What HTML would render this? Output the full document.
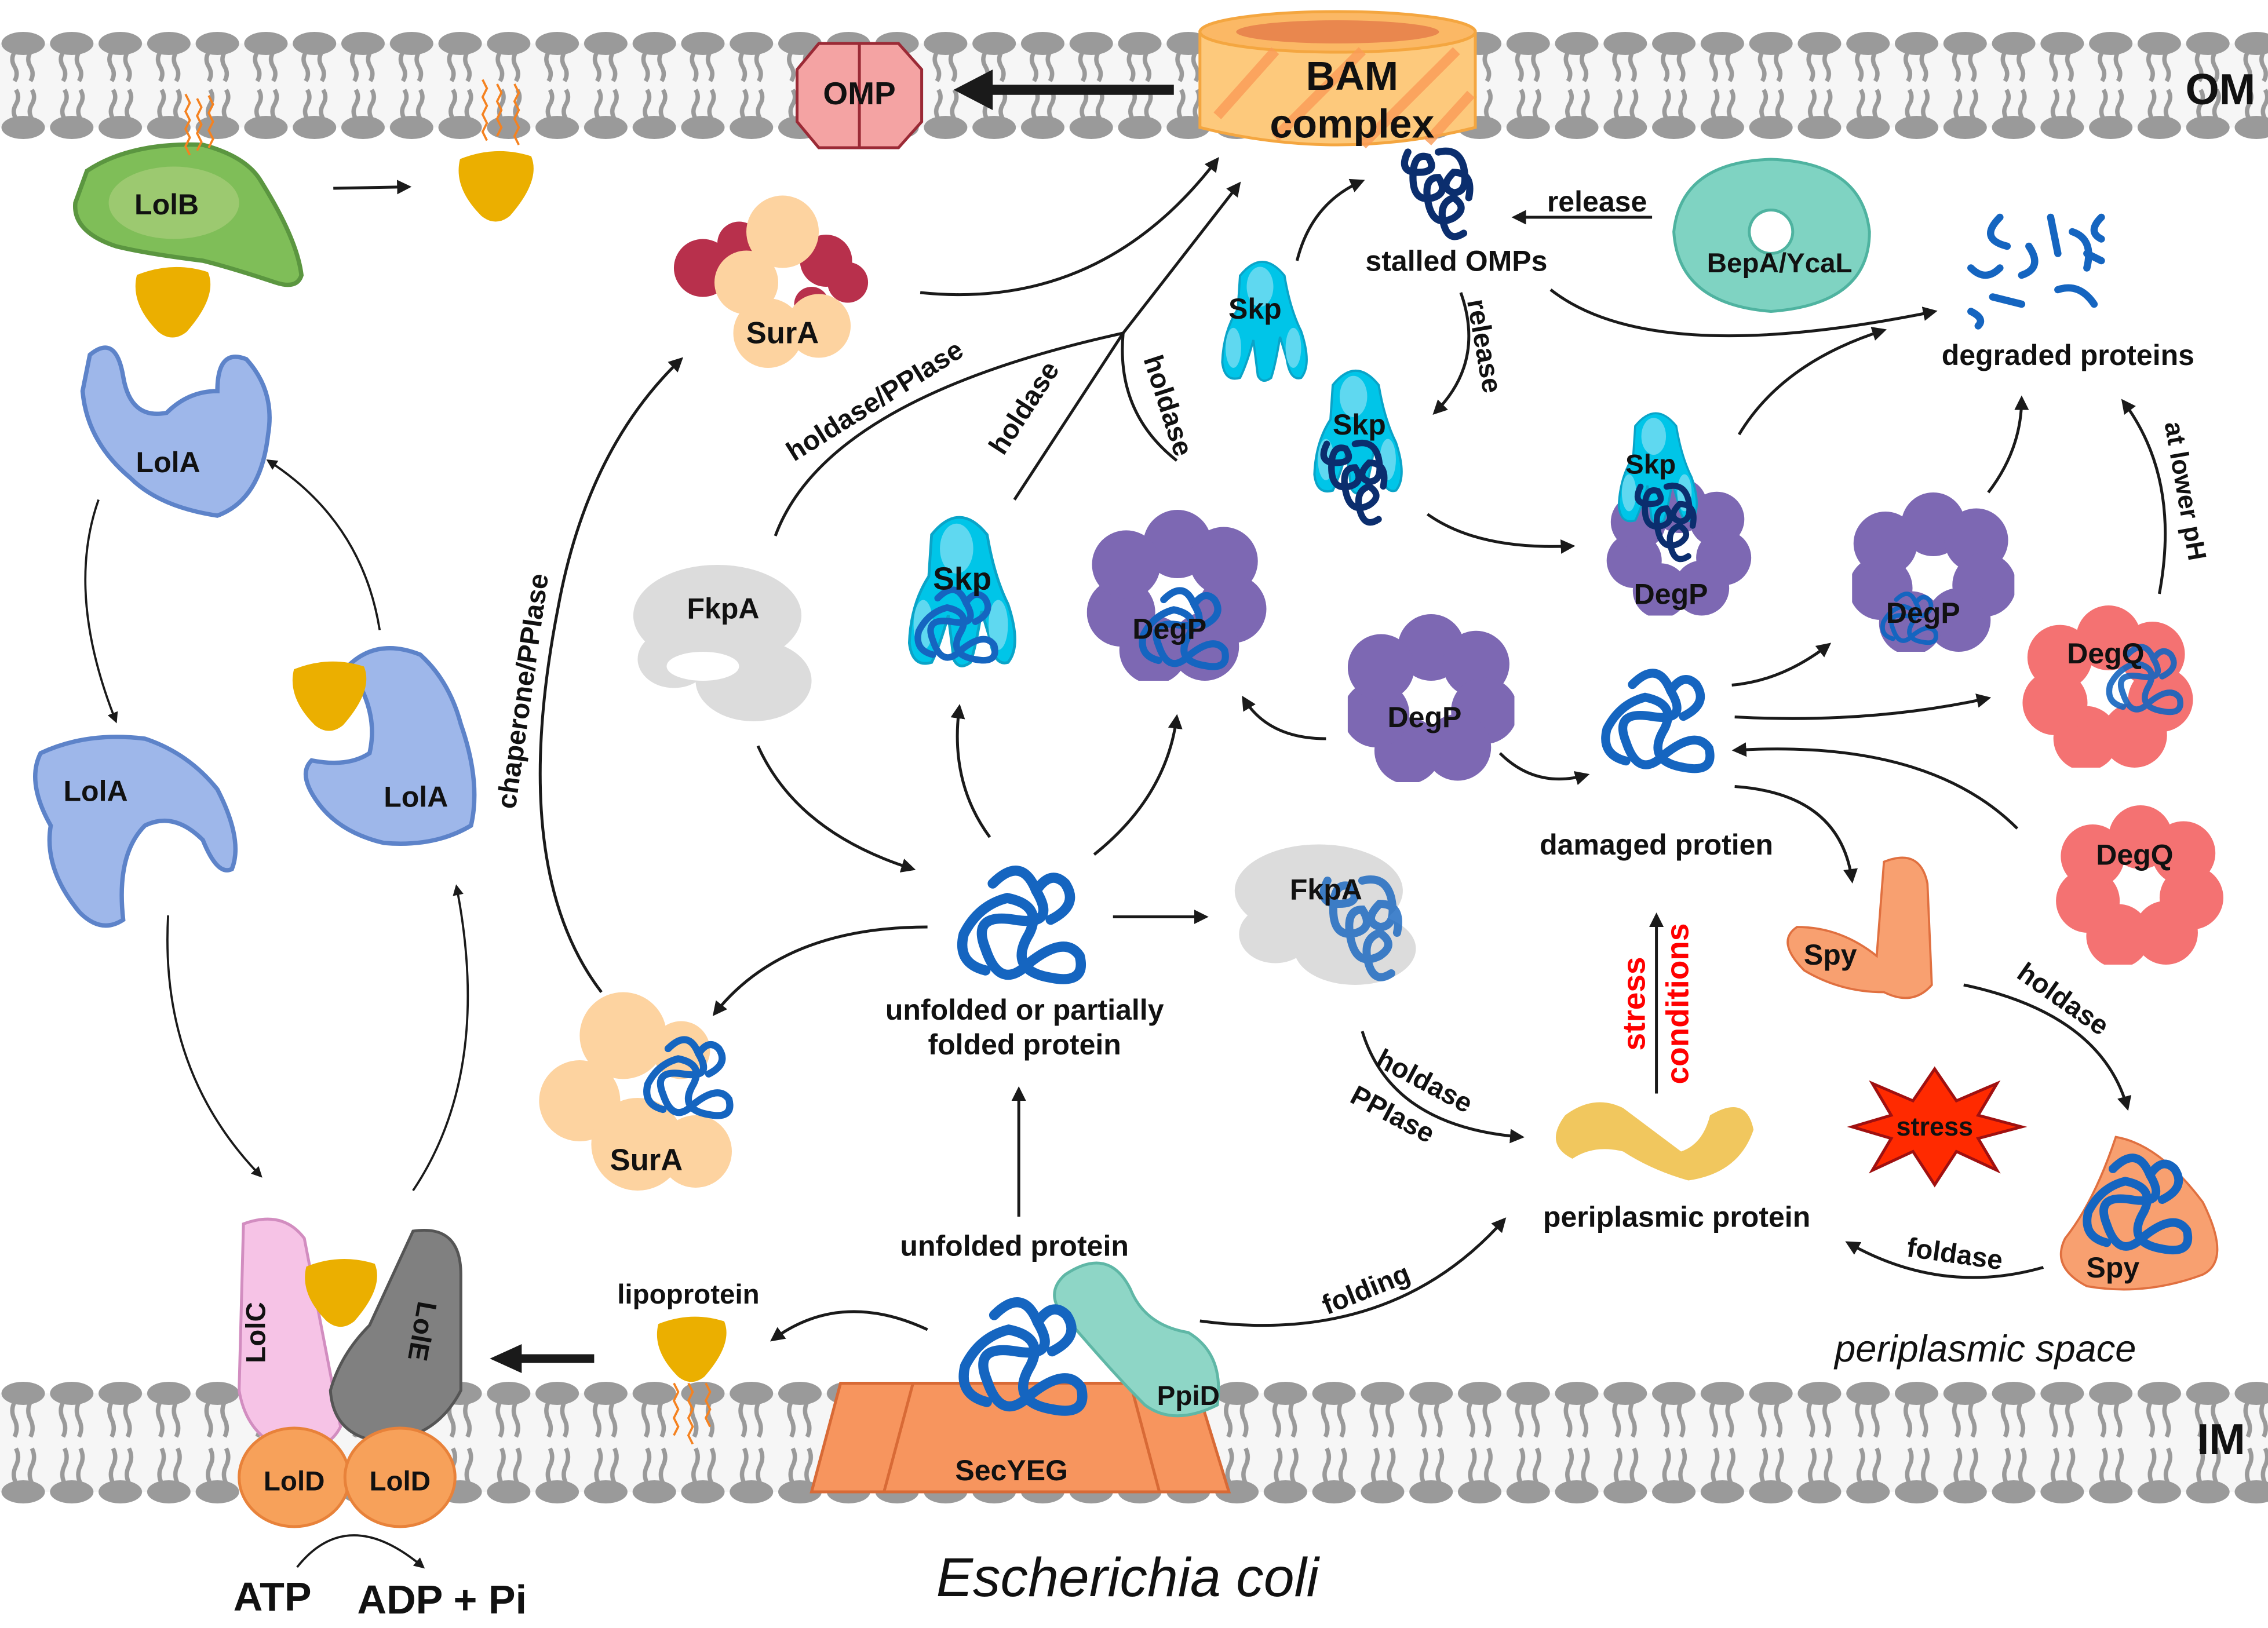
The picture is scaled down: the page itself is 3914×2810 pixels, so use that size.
<!DOCTYPE html>
<html><head><meta charset="utf-8"><style>
html,body{margin:0;padding:0;background:#fff}
svg{display:block}
text{font-family:"Liberation Sans Narrow","Liberation Sans",sans-serif;font-weight:bold;fill:#111}
</style></head><body>
<svg width="3914" height="2810" viewBox="0 0 1565 1124" preserveAspectRatio="none" xmlns="http://www.w3.org/2000/svg">
<defs>
<pattern id="om" x="0" y="22" width="33.5" height="76" patternUnits="userSpaceOnUse">
 <ellipse cx="16" cy="8" rx="15" ry="8" fill="#9a9a9a"/>
 <ellipse cx="16" cy="66" rx="15" ry="8" fill="#9a9a9a"/>
 <path d="M10 14 q-3 5 0 10 q3 5 0 10 M21 14 q-3 5 0 10 q3 5 0 10 M11 40 q3 5 0 10 q-3 5 0 10 M22 40 q3 5 0 10 q-3 5 0 10" stroke="#9a9a9a" stroke-width="3" fill="none"/>
</pattern>
<pattern id="im" x="0" y="954" width="33.5" height="84" patternUnits="userSpaceOnUse">
 <ellipse cx="16" cy="8" rx="15" ry="8" fill="#9a9a9a"/>
 <ellipse cx="16" cy="76" rx="15" ry="8" fill="#9a9a9a"/>
 <path d="M10 14 q-3 6 0 12 q3 6 0 12 M21 14 q-3 6 0 12 q3 6 0 12 M11 46 q3 6 0 12 q-3 6 0 12 M22 46 q3 6 0 12 q-3 6 0 12" stroke="#9a9a9a" stroke-width="3" fill="none"/>
</pattern>
<marker id="ah" viewBox="0 0 10 10" refX="8" refY="5" markerWidth="5" markerHeight="5" orient="auto"><path d="M0 0L10 5L0 10z" fill="#1a1a1a"/></marker>
<symbol id="ring" viewBox="0 0 100 100">
 <g fill="currentColor">
 <circle cx="50" cy="20" r="20"/><circle cx="77" cy="30" r="20"/><circle cx="82" cy="58" r="20"/><circle cx="66" cy="80" r="20"/><circle cx="36" cy="82" r="20"/><circle cx="17" cy="60" r="20"/><circle cx="20" cy="32" r="20"/>
 </g>
 <circle cx="50" cy="52" r="9" fill="#fff"/>
</symbol>
<symbol id="skp" viewBox="0 0 100 120">
 <g fill="#00c5e8" stroke="#0aa4c8" stroke-width="2">
 <path d="M30 20 Q50 -5 70 20 Q75 50 85 70 Q95 100 85 112 Q75 115 72 95 L66 75 Q62 100 58 112 Q50 118 46 110 L42 78 Q36 100 30 112 Q16 116 14 98 Q15 70 28 50 Z"/>
 </g>
 <ellipse cx="48" cy="30" rx="12" ry="18" fill="#5fd8f0"/>
 <ellipse cx="24" cy="85" rx="7" ry="18" fill="#5fd8f0"/>
 <ellipse cx="78" cy="85" rx="7" ry="18" fill="#5fd8f0"/>
</symbol>
<symbol id="tangle" viewBox="0 0 100 100">
 <path d="M30 20 Q50 0 60 25 Q75 50 45 45 Q15 40 25 65 Q35 95 55 75 Q80 55 90 70 Q95 90 70 85 Q40 80 55 55 Q65 35 40 30 Q20 35 10 55 Q5 75 25 80 M60 25 Q70 10 80 20 Q90 35 70 45" stroke="currentColor" stroke-width="7" fill="none" stroke-linecap="round"/>
</symbol>
<symbol id="coil" viewBox="0 0 100 100">
 <path d="M20 10 q-10 20 10 20 q20 0 10 -15 q-15 -5 -15 20 q0 25 20 20 q15 -5 5 -20 q-15 0 -10 25 q5 25 25 15 q15 -10 0 -20 q-15 5 -10 25 q5 20 20 10 M50 10 q20 -5 25 15 q5 25 -10 25 q-15 -5 0 -20 q20 0 15 25" stroke="currentColor" stroke-width="7" fill="none" stroke-linecap="round"/>
</symbol>
<symbol id="yel" viewBox="0 0 60 55">
 <path d="M5 10 Q30 0 55 8 Q62 25 40 50 Q30 58 20 50 Q0 30 5 10Z" fill="#ebaf00"/>
</symbol>
</defs>

<!-- membranes -->
<rect x="0" y="30" width="1565" height="58" fill="#f6f6f6"/>
<rect x="0" y="22" width="1565" height="76" fill="url(#om)"/>
<rect x="0" y="962" width="1565" height="68" fill="#f6f6f6"/>
<rect x="0" y="954" width="1565" height="84" fill="url(#im)"/>
<text x="1508" y="72" font-size="30">OM</text>
<text x="1516" y="1004" font-size="30">IM</text>

<!-- BAM -->
<path d="M828 22 L828 88 Q923 112 1018 88 L1018 22Z" fill="#fdc97c" stroke="#f4a640" stroke-width="2"/>
<ellipse cx="923" cy="22" rx="95" ry="14" fill="#fbb865" stroke="#f4a640" stroke-width="2"/>
<ellipse cx="923" cy="22" rx="70" ry="8" fill="#e9874e"/>
<g stroke="#fb9c57" stroke-width="7" opacity="0.8"><line x1="840" y1="80" x2="880" y2="35"/><line x1="880" y1="95" x2="940" y2="35"/><line x1="940" y1="100" x2="1005" y2="35"/><line x1="985" y1="98" x2="1015" y2="65"/></g>
<text x="933" y="62" font-size="28" text-anchor="middle">BAM</text>
<text x="933" y="95" font-size="28" text-anchor="middle">complex</text>
<!-- OMP -->
<path d="M565 30 L620 30 L636 48 L636 84 L620 102 L565 102 L550 84 L550 48Z" fill="#f4a3a3" stroke="#9b2a36" stroke-width="2"/>
<line x1="593" y1="30" x2="593" y2="102" stroke="#9b2a36" stroke-width="2"/>
<text x="593" y="72" font-size="22" text-anchor="middle">OMP</text>
<line x1="810" y1="62" x2="680" y2="62" stroke="#1a1a1a" stroke-width="7"/>
<path d="M658 62 L685 48 L685 76Z" fill="#1a1a1a"/>

<!-- LolB -->
<path d="M60 118 Q90 98 140 100 Q170 108 180 125 Q205 165 208 190 Q205 200 190 195 Q160 185 140 180 Q100 175 80 170 Q50 160 52 140Z" fill="#7fbe58" stroke="#5b9640" stroke-width="3"/>
<ellipse cx="120" cy="140" rx="45" ry="25" fill="#a8cd7a" opacity="0.7"/>
<text x="115" y="148" font-size="20" text-anchor="middle">LolB</text>
<use href="#yel" x="88" y="180" width="62" height="54"/>
<use href="#yel" x="312" y="100" width="60" height="54"/>
<g stroke="#f58220" stroke-width="1.5" fill="none"><path d="M128 65 l3 6 l-3 6 l3 6 l-3 6 l3 6 l-3 6 l3 6 M136 68 l3 6 l-3 6 l3 6 l-3 6 l3 6 l-3 6 M144 66 l3 6 l-3 6 l3 6 l-3 6 l3 6 l-3 6 M333 55 l3 6 l-3 6 l3 6 l-3 6 l3 6 l-3 6 l3 6 M343 58 l3 6 l-3 6 l3 6 l-3 6 l3 6 l-3 6 M355 58 l3 6 l-3 6 l3 6 l-3 6 l3 6 l-3 6 l3 6"/></g>
<line x1="230" y1="130" x2="282" y2="129" stroke="#1a1a1a" stroke-width="2" marker-end="url(#ah)"/>

<!-- LolA -->
<path d="M62 245 Q80 230 85 260 Q90 290 115 285 Q130 270 150 270 Q150 240 170 248 Q190 270 185 300 Q180 345 150 356 Q110 350 90 330 Q60 305 57 270Z" fill="#9eb7ea" stroke="#5d83c9" stroke-width="3"/>
<text x="116" y="326" font-size="20" text-anchor="middle">LolA</text>
<path d="M28 520 Q60 505 100 510 Q130 520 150 545 Q168 580 160 600 Q150 605 140 580 Q120 560 100 570 Q80 590 85 635 Q70 645 55 630 Q30 600 35 570 Q18 540 28 520Z" fill="#9eb7ea" stroke="#5d83c9" stroke-width="3"/>
<text x="66" y="553" font-size="20" text-anchor="middle">LolA</text>
<path d="M240 460 Q260 440 290 452 Q310 470 318 500 Q332 540 325 570 Q300 585 265 582 Q235 575 220 555 Q205 535 215 525 Q240 530 255 520 Q262 490 240 460Z" fill="#9eb7ea" stroke="#5d83c9" stroke-width="3"/>
<use href="#yel" x="198" y="445" width="58" height="68"/>
<text x="287" y="557" font-size="20" text-anchor="middle">LolA</text>
<path d="M68 345 Q45 410 80 498" stroke="#1a1a1a" stroke-width="1.5" fill="none" marker-end="url(#ah)"/>
<path d="M262 435 Q250 360 185 318" stroke="#1a1a1a" stroke-width="1.5" fill="none" marker-end="url(#ah)"/>
<path d="M116 632 Q110 740 180 812" stroke="#1a1a1a" stroke-width="1.5" fill="none" marker-end="url(#ah)"/>
<path d="M285 822 Q340 740 315 612" stroke="#1a1a1a" stroke-width="1.5" fill="none" marker-end="url(#ah)"/>

<!-- Lol CDE -->
<path d="M168 845 Q195 835 210 855 L235 985 Q225 1005 195 1000 Q170 990 165 960 Z" fill="#f6c3e6" stroke="#d28dc0" stroke-width="2"/>
<text x="183" y="920" font-size="19" text-anchor="middle" transform="rotate(-90 183 920)">LolC</text>
<path d="M285 850 Q318 845 318 880 L318 960 Q300 995 260 995 Q230 990 228 960 Q235 935 255 915 Z" fill="#808080" stroke="#555" stroke-width="2"/>
<text x="285" y="918" font-size="19" text-anchor="middle" transform="rotate(100 285 918)">LolE</text>
<use href="#yel" x="204" y="865" width="62" height="52"/>
<ellipse cx="203" cy="1020" rx="38" ry="34" fill="#f7a15a" stroke="#e8823a" stroke-width="2"/>
<ellipse cx="276" cy="1020" rx="38" ry="34" fill="#f7a15a" stroke="#e8823a" stroke-width="2"/>
<text x="203" y="1029" font-size="19" text-anchor="middle">LolD</text>
<text x="276" y="1029" font-size="19" text-anchor="middle">LolD</text>
<path d="M205 1082 Q240 1038 292 1082" stroke="#1a1a1a" stroke-width="1.5" fill="none" marker-end="url(#ah)"/>
<text x="188" y="1112" font-size="28" text-anchor="middle">ATP</text>
<text x="305" y="1114" font-size="28" text-anchor="middle">ADP + Pi</text>
<line x1="410" y1="938" x2="355" y2="938" stroke="#1a1a1a" stroke-width="6"/>
<path d="M338 938 L360 928 L360 948Z" fill="#1a1a1a"/>
<text x="475" y="900" font-size="19" text-anchor="middle">lipoprotein</text>
<use href="#yel" x="446" y="905" width="62" height="50"/>
<g stroke="#f58220" stroke-width="1.5" fill="none"><path d="M465 955 l3 6 l-3 6 l3 6 l-3 6 l3 6 l-3 6 M475 955 l3 6 l-3 6 l3 6 l-3 6 l3 6 l-3 6 l3 6 M487 955 l3 6 l-3 6 l3 6 l-3 6 l3 6"/></g>

<!-- SecYEG -->
<path d="M580 955 L825 955 L848 1030 L560 1030 Z" fill="#f7955e" stroke="#d86a36" stroke-width="2"/>
<line x1="630" y1="955" x2="610" y2="1030" stroke="#d86a36" stroke-width="2"/>
<line x1="780" y1="955" x2="800" y2="1030" stroke="#d86a36" stroke-width="2"/>
<text x="698" y="1022" font-size="20" text-anchor="middle">SecYEG</text>
<path d="M735 880 Q765 860 780 890 Q790 915 820 920 Q845 935 840 970 Q810 985 790 970 Q770 950 740 915 Q718 895 735 880Z" fill="#8ed6c6" stroke="#5fb7a6" stroke-width="2"/>
<text x="820" y="970" font-size="19" text-anchor="middle">PpiD</text>
<use href="#tangle" x="652" y="888" width="108" height="100" color="#1565c0"/>

<!-- unfolded -->
<use href="#tangle" x="650" y="590" width="110" height="100" color="#1565c0"/>
<text x="707" y="704" font-size="20" text-anchor="middle">unfolded or partially</text>
<text x="707" y="728" font-size="20" text-anchor="middle">folded protein</text>
<text x="700" y="867" font-size="20" text-anchor="middle">unfolded protein</text>
<line x1="703" y1="840" x2="703" y2="752" stroke="#1a1a1a" stroke-width="2" marker-end="url(#ah)"/>

<!-- FkpA -->
<g fill="#dcdcdc"><ellipse cx="495" cy="425" rx="58" ry="35"/><ellipse cx="520" cy="470" rx="40" ry="28"/><ellipse cx="465" cy="455" rx="25" ry="20"/></g>
<ellipse cx="485" cy="460" rx="25" ry="10" fill="#fff"/>
<text x="499" y="427" font-size="20" text-anchor="middle">FkpA</text>
<g fill="#dcdcdc"><ellipse cx="910" cy="615" rx="58" ry="32"/><ellipse cx="935" cy="655" rx="42" ry="25"/><ellipse cx="880" cy="645" rx="25" ry="20"/></g>
<use href="#coil" x="900" y="590" width="80" height="100" color="#1565c0" opacity="0.8"/>
<text x="915" y="621" font-size="20" text-anchor="middle">FkpA</text>

<!-- Skp & DegP center -->
<use href="#skp" x="612" y="350" width="100" height="115"/>
<use href="#tangle" x="625" y="400" width="70" height="65" color="#1565c0"/>
<text x="664" y="407" font-size="22" text-anchor="middle">Skp</text>
<use href="#ring" x="750" y="352" width="125" height="118" color="#7d68b3"/>
<use href="#tangle" x="782" y="400" width="70" height="70" color="#1565c0"/>
<text x="807" y="441" font-size="20" text-anchor="middle">DegP</text>

<!-- SurA -->
<g fill="#b8304c"><circle cx="485" cy="185" r="20"/><circle cx="510" cy="168" r="15"/><circle cx="570" cy="180" r="18"/><circle cx="585" cy="195" r="14"/><circle cx="560" cy="210" r="12"/></g>
<g fill="#fdd3a0"><circle cx="540" cy="160" r="25"/><circle cx="515" cy="195" r="22"/><circle cx="530" cy="230" r="24"/><circle cx="565" cy="225" r="22"/></g>
<text x="540" y="237" font-size="21" text-anchor="middle">SurA</text>
<g fill="#fdd3a0"><circle cx="430" cy="715" r="30"/><circle cx="400" cy="760" r="28"/><circle cx="440" cy="790" r="32"/><circle cx="480" cy="795" r="25"/><circle cx="470" cy="725" r="20"/></g>
<use href="#tangle" x="430" y="710" width="90" height="70" color="#1565c0"/>
<text x="446" y="808" font-size="21" text-anchor="middle">SurA</text>

<!-- top right cluster -->
<use href="#skp" x="830" y="175" width="82" height="92"/>
<text x="866" y="220" font-size="20" text-anchor="middle">Skp</text>
<use href="#coil" x="945" y="98" width="95" height="70" color="#0b2e6e"/>
<text x="1005" y="187" font-size="20" text-anchor="middle">stalled OMPs</text>
<text x="1102" y="146" font-size="20" text-anchor="middle">release</text>
<line x1="1140" y1="150" x2="1045" y2="150" stroke="#1a1a1a" stroke-width="2" marker-end="url(#ah)"/>
<g fill="#7fd3c2" stroke="#4fb3a0" stroke-width="2"><path d="M1222 110 Q1285 112 1290 160 Q1290 210 1222 215 Q1158 210 1155 160 Q1160 112 1222 110Z M1222 145 a15 15 0 1 0 0.1 0Z" fill-rule="evenodd"/></g>
<text x="1228" y="188" font-size="19" text-anchor="middle">BepA/YcaL</text>
<use href="#skp" x="893" y="250" width="85" height="95"/>
<use href="#coil" x="900" y="300" width="70" height="65" color="#0b2e6e"/>
<text x="938" y="300" font-size="20" text-anchor="middle">Skp</text>
<text x="1018" y="240" font-size="19" text-anchor="middle" transform="rotate(80 1018 240)">release</text>
<path d="M1008 202 Q1025 250 990 285" stroke="#1a1a1a" stroke-width="2" fill="none" marker-end="url(#ah)"/>
<path d="M895 180 Q905 140 940 125" stroke="#1a1a1a" stroke-width="2" fill="none" marker-end="url(#ah)"/>
<path d="M985 355 Q1020 380 1085 377" stroke="#1a1a1a" stroke-width="2" fill="none" marker-end="url(#ah)"/>

<use href="#ring" x="1098" y="330" width="122" height="95" color="#7d68b3"/>
<use href="#skp" x="1105" y="280" width="75" height="85"/>
<use href="#coil" x="1115" y="330" width="70" height="60" color="#0b2e6e"/>
<text x="1139" y="327" font-size="19" text-anchor="middle">Skp</text>
<text x="1153" y="417" font-size="20" text-anchor="middle">DegP</text>

<g stroke="#1565c0" stroke-width="5" fill="none" stroke-linecap="round"><path d="M1380 150 q-15 15 5 20 M1400 170 q10 15 -5 20 M1360 185 q10 10 20 0 M1415 150 l5 25 M1430 160 q15 5 10 25 M1450 150 q-10 10 0 15 M1375 205 l20 5 M1420 200 q15 -5 25 10 M1360 215 q10 5 5 10 M1440 175 l10 5"/></g>
<text x="1427" y="252" font-size="20" text-anchor="middle">degraded proteins</text>
<path d="M1070 200 Q1140 255 1335 215" stroke="#1a1a1a" stroke-width="2" fill="none" marker-end="url(#ah)"/>
<path d="M1200 300 Q1230 250 1300 228" stroke="#1a1a1a" stroke-width="2" fill="none" marker-end="url(#ah)"/>
<path d="M1372 340 Q1395 310 1395 275" stroke="#1a1a1a" stroke-width="2" fill="none" marker-end="url(#ah)"/>
<path d="M1490 410 Q1505 330 1465 277" stroke="#1a1a1a" stroke-width="2" fill="none" marker-end="url(#ah)"/>
<text x="1502" y="340" font-size="18" text-anchor="middle" transform="rotate(80 1502 340)">at lower pH</text>

<use href="#ring" x="1278" y="340" width="112" height="110" color="#7d68b3"/>
<use href="#tangle" x="1295" y="400" width="45" height="55" color="#1565c0"/>
<text x="1327" y="430" font-size="20" text-anchor="middle">DegP</text>
<use href="#ring" x="1390" y="418" width="130" height="112" color="#f47272"/>
<use href="#tangle" x="1440" y="440" width="80" height="60" color="#1565c0" opacity="0.9"/>
<text x="1453" y="458" font-size="20" text-anchor="middle">DegQ</text>
<use href="#ring" x="930" y="423" width="115" height="117" color="#7d68b3"/>
<text x="983" y="502" font-size="20" text-anchor="middle">DegP</text>

<use href="#tangle" x="1100" y="455" width="88" height="88" color="#1565c0"/>
<text x="1143" y="590" font-size="20" text-anchor="middle">damaged protien</text>
<path d="M1195 473 Q1230 470 1262 445" stroke="#1a1a1a" stroke-width="2" fill="none" marker-end="url(#ah)"/>
<path d="M1197 495 Q1290 500 1372 482" stroke="#1a1a1a" stroke-width="2" fill="none" marker-end="url(#ah)"/>
<path d="M1392 572 Q1330 510 1197 518" stroke="#1a1a1a" stroke-width="2" fill="none" marker-end="url(#ah)"/>
<path d="M1197 543 Q1270 548 1278 608" stroke="#1a1a1a" stroke-width="2" fill="none" marker-end="url(#ah)"/>
<path d="M1035 520 Q1060 545 1095 535" stroke="#1a1a1a" stroke-width="2" fill="none" marker-end="url(#ah)"/>
<use href="#ring" x="1418" y="556" width="118" height="110" color="#f47272"/>
<text x="1473" y="597" font-size="20" text-anchor="middle">DegQ</text>

<!-- Spy -->
<g fill="#f8a070" stroke="#e07040" stroke-width="1.5"><path d="M1300 595 Q1325 585 1330 610 L1333 680 Q1320 695 1300 685 Q1270 685 1245 670 Q1225 650 1240 640 Q1270 640 1295 660 Z"/></g>
<text x="1263" y="666" font-size="20" text-anchor="middle">Spy</text>
<text x="1420" y="695" font-size="19" text-anchor="middle" transform="rotate(35 1420 695)">holdase</text>
<path d="M1355 680 Q1450 700 1468 765" stroke="#1a1a1a" stroke-width="2" fill="none" marker-end="url(#ah)"/>
<g fill="#f8a070" stroke="#e07040" stroke-width="1.5"><path d="M1460 785 Q1490 790 1520 830 Q1540 870 1520 880 Q1480 895 1440 888 Q1415 875 1425 855 Q1445 830 1460 785Z"/></g>
<use href="#tangle" x="1420" y="790" width="110" height="85" color="#1565c0"/>
<text x="1458" y="882" font-size="20" text-anchor="middle">Spy</text>

<polygon points="1335,738 1350,760 1378,748 1365,770 1395,778 1365,786 1378,808 1350,795 1335,818 1320,795 1292,808 1305,786 1278,778 1305,770 1292,748 1320,760" fill="#ff2a00" stroke="#a01010" stroke-width="2"/>
<text x="1335" y="784" font-size="18" text-anchor="middle">stress</text>

<!-- periplasmic protein -->
<path d="M1080 770 Q1100 755 1120 765 Q1140 780 1160 795 Q1175 790 1180 770 Q1205 755 1210 780 Q1200 810 1165 815 Q1140 808 1120 795 Q1100 790 1085 800 Q1065 790 1080 770Z" fill="#f1c75e"/>
<text x="1157" y="847" font-size="20" text-anchor="middle">periplasmic protein</text>
<line x1="1143" y1="755" x2="1143" y2="632" stroke="#1a1a1a" stroke-width="2" marker-end="url(#ah)"/>
<text x="1135" y="693" font-size="22" text-anchor="middle" transform="rotate(-90 1135 693)" style="fill:#f00">stress</text>
<text x="1165" y="693" font-size="22" text-anchor="middle" transform="rotate(-90 1165 693)" style="fill:#f00">conditions</text>
<path d="M1410 875 Q1340 895 1275 858" stroke="#1a1a1a" stroke-width="2" fill="none" marker-end="url(#ah)"/>
<text x="1348" y="872" font-size="19" text-anchor="middle" transform="rotate(8 1348 872)">foldase</text>
<path d="M828 912 Q960 930 1038 842" stroke="#1a1a1a" stroke-width="2" fill="none" marker-end="url(#ah)"/>
<text x="945" y="896" font-size="19" text-anchor="middle" transform="rotate(-22 945 896)">folding</text>
<path d="M940 712 Q960 778 1050 785" stroke="#1a1a1a" stroke-width="2" fill="none" marker-end="url(#ah)"/>
<text x="980" y="752" font-size="19" text-anchor="middle" transform="rotate(28 980 752)">holdase</text>
<text x="958" y="775" font-size="19" text-anchor="middle" transform="rotate(28 958 775)">PPIase</text>

<text x="1370" y="940" font-size="26" text-anchor="middle" style="font-weight:normal;font-style:italic;font-family:'Liberation Sans',sans-serif">periplasmic space</text>
<text x="778" y="1102" font-size="38" text-anchor="middle" style="font-weight:normal;font-style:italic;font-family:'Liberation Sans',sans-serif">Escherichia coli</text>

<!-- central arrows -->
<path d="M523 515 Q550 575 630 600" stroke="#1a1a1a" stroke-width="2" fill="none" marker-end="url(#ah)"/>
<path d="M683 578 Q655 540 662 488" stroke="#1a1a1a" stroke-width="2" fill="none" marker-end="url(#ah)"/>
<path d="M755 590 Q805 550 812 495" stroke="#1a1a1a" stroke-width="2" fill="none" marker-end="url(#ah)"/>
<path d="M915 510 Q875 510 858 482" stroke="#1a1a1a" stroke-width="2" fill="none" marker-end="url(#ah)"/>
<line x1="768" y1="633" x2="832" y2="633" stroke="#1a1a1a" stroke-width="2" marker-end="url(#ah)"/>
<path d="M640 640 Q540 640 493 700" stroke="#1a1a1a" stroke-width="2" fill="none" marker-end="url(#ah)"/>
<path d="M640 918 Q580 890 533 925" stroke="#1a1a1a" stroke-width="2" fill="none" marker-end="url(#ah)"/>
<path d="M415 685 Q350 600 385 420 Q405 310 470 248" stroke="#1a1a1a" stroke-width="2" fill="none" marker-end="url(#ah)"/>
<text x="367" y="478" font-size="19" text-anchor="middle" transform="rotate(-82 367 478)">chaperone/PPIase</text>
<path d="M635 202 Q760 215 840 110" stroke="#1a1a1a" stroke-width="2" fill="none" marker-end="url(#ah)"/>
<path d="M535 370 Q570 275 775 230" stroke="#1a1a1a" stroke-width="2" fill="none"/>
<path d="M700 345 L775 230 L855 127" stroke="#1a1a1a" stroke-width="2" fill="none" marker-end="url(#ah)"/>
<path d="M775 230 Q770 285 812 318" stroke="#1a1a1a" stroke-width="2" fill="none"/>
<text x="607" y="282" font-size="19" text-anchor="middle" transform="rotate(-32 607 282)">holdase/PPIase</text>
<text x="712" y="285" font-size="19" text-anchor="middle" transform="rotate(-57 712 285)">holdase</text>
<text x="800" y="282" font-size="19" text-anchor="middle" transform="rotate(72 800 282)">holdase</text>
</svg>
</body></html>
